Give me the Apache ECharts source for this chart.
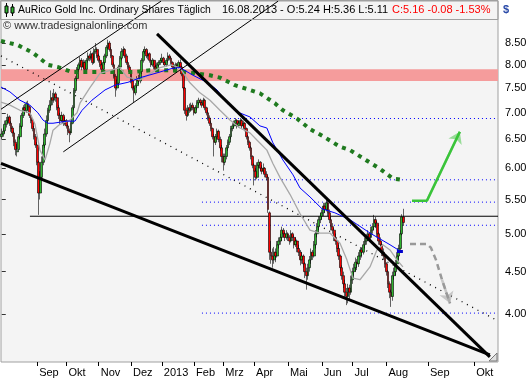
<!DOCTYPE html>
<html><head><meta charset="utf-8">
<script src="https://cdn.jsdelivr.net/npm/echarts@6/dist/echarts.min.js"></script>
<style>html,body{margin:0;padding:0;background:#fff}#c{width:531px;height:380px}</style>
</head><body><div id="c"></div><script>
// ---------- categories / ticks ----------
const holidays = ['2012-09-03','2012-10-29','2012-10-30','2012-11-22','2012-12-25','2013-01-01','2013-01-21','2013-02-18','2013-03-29','2013-05-27','2013-07-04'];
const tickLabels = ['Sep','Okt','Nov','Dez','2013','Feb','Mrz','Apr','Mai','Jun','Jul','Aug','Sep','Okt'];
const yTicks = [4.0,4.5,5.0,5.5,6.0,6.5,7.0,7.5,8.0,8.5];

// ---------- daily OHLC (AuRico Gold, Aug 2012 - 16 Aug 2013) ----------
const opens = [
6.55,6.60,6.66,6.78,6.84,6.92,6.80,6.71,6.62,6.45,
6.28,6.32,6.55,6.74,6.95,7.10,7.04,7.18,7.12,6.95,
6.86,6.70,6.55,6.40,6.10,5.60,5.85,6.10,6.40,6.60,
6.85,7.05,7.15,7.30,7.25,7.38,7.30,7.10,6.95,6.85,
6.95,6.80,6.85,6.75,6.65,6.62,6.80,7.10,7.45,7.70,
7.90,8.00,8.10,7.95,8.05,7.90,8.10,8.20,8.15,8.25,
8.05,8.30,8.35,8.20,8.10,8.00,7.90,8.05,8.20,8.40,
8.50,8.35,8.20,8.00,7.75,7.50,7.60,7.95,8.15,8.30,
8.35,8.20,8.05,7.95,7.85,7.65,7.50,7.40,7.55,7.70,
7.65,7.85,8.10,8.30,8.35,8.20,8.25,8.10,8.00,8.10,
7.95,7.90,8.00,8.05,8.10,8.15,8.05,8.00,8.10,8.20,
8.15,8.05,7.95,7.90,8.00,7.95,8.05,7.95,7.80,7.50,
7.05,6.95,7.10,7.05,7.15,7.10,7.00,7.10,7.20,7.25,
7.20,7.15,7.25,7.10,7.00,6.90,6.80,6.70,6.55,6.45,
6.55,6.65,6.50,6.35,6.20,6.10,6.20,6.35,6.45,6.55,
6.70,6.75,6.80,6.85,6.75,6.80,6.85,6.75,6.80,6.70,
6.55,6.45,6.35,6.20,6.05,5.95,5.85,6.05,6.10,6.00,
5.95,6.00,5.90,5.85,5.30,4.75,4.70,4.65,4.75,4.70,
4.85,4.90,4.95,5.05,5.00,4.95,5.00,4.95,4.90,5.00,
4.95,4.85,4.90,4.80,4.75,4.65,4.70,4.60,4.50,4.45,
4.55,4.65,4.75,4.70,4.85,5.00,5.10,5.20,5.25,5.30,
5.40,5.35,5.45,5.30,5.20,5.10,5.05,4.95,4.90,4.80,
4.70,4.55,4.45,4.35,4.25,4.20,4.30,4.25,4.40,4.50,
4.55,4.62,4.60,4.70,4.78,4.75,4.85,4.90,4.95,5.00,
4.95,5.05,5.10,5.20,5.15,5.00,4.90,4.85,4.75,4.70,
4.60,4.50,4.35,4.25,4.20,4.45,4.50,4.60,4.70,4.80,
5.00,5.24];
const highs = [
6.70,6.72,6.85,6.92,6.98,6.95,6.84,6.75,6.66,6.50,
6.42,6.60,6.80,7.00,7.15,7.18,7.22,7.24,7.15,7.00,
6.90,6.75,6.60,6.45,6.12,5.95,6.20,6.45,6.70,6.95,
7.10,7.25,7.45,7.40,7.48,7.42,7.32,7.15,7.00,7.02,
6.98,6.92,6.88,6.78,6.70,6.85,7.15,7.50,7.75,7.95,
8.05,8.18,8.15,8.12,8.10,8.15,8.28,8.25,8.32,8.28,
8.38,8.50,8.40,8.25,8.15,8.05,8.10,8.25,8.45,8.58,
8.55,8.40,8.22,8.05,7.80,7.68,8.00,8.20,8.38,8.42,
8.38,8.25,8.10,8.00,7.88,7.70,7.55,7.60,7.75,7.78,
7.90,8.15,8.35,8.42,8.38,8.30,8.28,8.12,8.15,8.12,
8.00,8.05,8.10,8.15,8.25,8.18,8.08,8.15,8.28,8.24,
8.18,8.08,8.00,8.05,8.04,8.10,8.12,7.98,7.82,7.52,
7.10,7.15,7.18,7.20,7.20,7.12,7.15,7.25,7.30,7.28,
7.22,7.30,7.28,7.12,7.05,6.95,6.85,6.72,6.60,6.60,
6.70,6.68,6.55,6.40,6.25,6.25,6.40,6.50,6.60,6.75,
6.80,6.85,6.90,6.88,6.85,6.90,6.88,6.85,6.82,6.72,
6.58,6.48,6.38,6.22,6.08,6.00,6.10,6.15,6.12,6.05,
6.08,6.02,5.95,5.88,5.32,4.90,4.80,4.82,4.80,4.90,
4.95,5.00,5.10,5.08,5.02,5.05,5.02,4.98,5.05,5.02,
4.98,4.95,4.92,4.85,4.78,4.75,4.72,4.62,4.55,4.60,
4.70,4.80,4.78,4.90,5.05,5.15,5.25,5.30,5.35,5.45,
5.45,5.50,5.48,5.35,5.25,5.15,5.08,5.00,4.92,4.85,
4.72,4.58,4.50,4.40,4.30,4.35,4.34,4.45,4.55,4.60,
4.68,4.66,4.75,4.82,4.80,4.90,4.95,5.00,5.05,5.02,
5.10,5.15,5.27,5.24,5.18,5.02,4.95,4.88,4.80,4.72,
4.62,4.52,4.38,4.28,4.50,4.55,4.65,4.75,4.85,5.05,
5.28,5.36];
const lows = [
6.50,6.55,6.62,6.72,6.80,6.75,6.64,6.55,6.38,6.22,
6.20,6.30,6.50,6.70,6.90,6.98,7.00,7.05,6.90,6.80,
6.65,6.50,6.35,6.05,5.27,5.50,5.80,6.05,6.35,6.55,
6.80,7.00,7.10,7.15,7.20,7.22,7.05,6.88,6.78,6.82,
6.75,6.76,6.70,6.58,6.45,6.58,6.78,7.05,7.40,7.65,
7.85,7.92,7.88,7.90,7.85,7.88,8.05,8.08,8.10,8.00,
8.02,8.25,8.15,8.05,7.95,7.82,7.85,8.00,8.15,8.35,
8.30,8.15,7.95,7.70,7.32,7.45,7.55,7.90,8.10,8.22,
8.15,8.00,7.90,7.80,7.60,7.45,7.21,7.35,7.50,7.58,
7.60,7.80,8.05,8.25,8.15,8.12,8.05,7.95,7.96,7.90,
7.85,7.88,7.96,8.00,8.05,8.00,7.95,7.96,8.05,8.10,
8.00,7.90,7.85,7.86,7.90,7.92,7.90,7.75,7.45,6.98,
6.85,6.92,7.00,7.02,7.05,6.95,6.98,7.05,7.15,7.15,
7.10,7.12,7.05,6.95,6.85,6.75,6.65,6.50,6.20,6.40,
6.50,6.45,6.30,6.10,5.96,6.05,6.15,6.30,6.40,6.50,
6.65,6.70,6.75,6.70,6.72,6.76,6.70,6.72,6.65,6.50,
6.40,6.30,6.15,6.00,5.72,5.80,5.82,6.00,5.95,5.90,
5.92,5.85,5.80,5.30,4.65,4.60,4.55,4.60,4.62,4.68,
4.80,4.85,4.90,4.95,4.90,4.92,4.90,4.85,4.88,4.90,
4.80,4.82,4.75,4.70,4.58,4.60,4.55,4.42,4.28,4.40,
4.50,4.60,4.65,4.68,4.80,4.95,5.05,5.15,5.20,5.25,
5.30,5.32,5.25,5.15,5.05,5.00,4.90,4.85,4.75,4.65,
4.50,4.40,4.30,4.18,4.10,4.12,4.15,4.22,4.35,4.45,
4.50,4.52,4.56,4.65,4.68,4.72,4.80,4.85,4.90,4.90,
4.92,5.00,5.05,5.08,4.95,4.85,4.80,4.70,4.65,4.55,
4.45,4.30,4.18,4.08,4.15,4.40,4.45,4.55,4.65,4.78,
4.98,5.11];
const closes = [
6.60,6.65,6.78,6.85,6.92,6.80,6.70,6.62,6.45,6.32,
6.30,6.55,6.75,6.95,7.10,7.05,7.18,7.12,6.95,6.85,
6.70,6.55,6.40,6.10,5.60,5.85,6.10,6.40,6.60,6.85,
7.05,7.15,7.30,7.25,7.38,7.30,7.10,6.95,6.85,6.95,
6.80,6.85,6.75,6.65,6.62,6.80,7.10,7.45,7.70,7.90,
8.00,8.10,7.95,8.05,7.90,8.10,8.20,8.15,8.25,8.05,
8.30,8.35,8.20,8.10,8.00,7.90,8.05,8.20,8.40,8.50,
8.35,8.20,8.00,7.75,7.50,7.60,7.95,8.15,8.30,8.35,
8.20,8.05,7.95,7.85,7.65,7.50,7.40,7.55,7.70,7.65,
7.85,8.10,8.30,8.35,8.20,8.25,8.10,8.00,8.10,7.95,
7.90,8.00,8.05,8.10,8.15,8.05,8.00,8.10,8.20,8.15,
8.05,7.95,7.90,8.00,7.95,8.05,7.95,7.80,7.50,7.05,
6.95,7.10,7.05,7.15,7.10,7.00,7.10,7.20,7.25,7.20,
7.15,7.25,7.10,7.00,6.90,6.80,6.70,6.55,6.45,6.55,
6.65,6.50,6.35,6.20,6.10,6.20,6.35,6.45,6.55,6.70,
6.75,6.80,6.85,6.75,6.80,6.85,6.75,6.80,6.70,6.55,
6.45,6.35,6.20,6.05,5.95,5.85,6.05,6.10,6.00,5.95,
6.00,5.90,5.85,5.35,4.75,4.70,4.65,4.75,4.70,4.85,
4.90,4.95,5.05,5.00,4.95,5.00,4.95,4.90,5.00,4.95,
4.85,4.90,4.80,4.75,4.65,4.70,4.60,4.50,4.45,4.55,
4.65,4.75,4.70,4.85,5.00,5.10,5.20,5.25,5.30,5.40,
5.35,5.45,5.30,5.20,5.10,5.05,4.95,4.90,4.80,4.70,
4.55,4.45,4.35,4.25,4.20,4.30,4.25,4.40,4.50,4.55,
4.62,4.60,4.70,4.78,4.75,4.85,4.90,4.95,5.00,4.95,
5.05,5.10,5.20,5.15,5.00,4.90,4.85,4.75,4.70,4.60,
4.50,4.35,4.25,4.20,4.45,4.50,4.60,4.70,4.80,5.00,
5.24,5.16];

// ---------- indicator lines: [bar position, price] ----------
const grayMA = [[-0.5,7.21],[5.3,7.15],[11.8,7.05],[18.3,7.00],[21.6,6.78],[24.8,6.31],[28.1,6.14],[31.3,6.43],[33.3,6.67],[37.8,6.78],[44.3,6.86],[48.9,7.00],[50.8,7.19],[57.3,7.51],[63.8,7.81],[76.8,7.94],[81.4,7.73],[89.8,7.67],[102.8,7.94],[110,8.00],[115.8,7.93],[122.3,7.61],[128.8,7.40],[135.3,7.25],[141.8,7.05],[148.3,6.86],[154.8,6.71],[161.3,6.62],[165.8,6.49],[172.3,6.31],[176.2,6.08],[180.8,5.85],[187.3,5.58],[193.8,5.29],[200.3,5.05],[206.8,5.01],[213.3,5.01],[219.8,4.87],[224.3,4.65],[228.2,4.42],[232.8,4.40],[239.3,4.56],[243.8,4.78],[247.7,4.85],[252.3,4.78],[256.8,4.65],[260.7,4.56]];
const blueMA = [[-0.5,7.52],[5.3,7.42],[11.8,7.25],[18.3,7.15],[23.5,7.00],[26.8,6.86],[30.0,6.80],[33.3,6.80],[42.4,6.84],[47.6,6.84],[52.2,7.05],[58.6,7.25],[67.1,7.46],[73.6,7.56],[82.0,7.62],[91.1,7.73],[99.6,7.81],[110.6,7.92],[115.8,7.94],[124.3,7.77],[133.4,7.62],[139.9,7.46],[146.4,7.19],[152.8,7.02],[161.3,6.92],[167.8,6.75],[172.3,6.71],[176.2,6.44],[182.7,6.14],[189.3,5.89],[193.8,5.68],[200.3,5.54],[208.1,5.36],[216.5,5.30],[226.3,5.20],[239.3,5.01],[252.3,4.85],[260.1,4.75]];
const blueMark = [[256.8,4.76],[260.7,4.76]];
const greenMA = [[-0.5,8.55],[10.5,8.45],[20.3,8.27],[30.0,8.00],[36.5,7.95],[45.6,7.84],[63.8,7.84],[85.3,7.84],[96.3,7.88],[109.3,7.88],[124.3,7.82],[135.3,7.77],[141.8,7.72],[151.5,7.56],[161.3,7.46],[167.8,7.39],[177.5,7.19],[182.7,7.05],[191.8,6.89],[200.3,6.69],[208.7,6.56],[219.8,6.37],[226.3,6.31],[245.8,5.99],[254.2,5.83],[260.1,5.81]];

// ---------- drawn analysis (trend lines, levels, projections) ----------
const supportLine  = [[-0.5,6.08],[317.2,3.57]];
const downTrend    = [[100.9,8.72],[317.2,3.55]];
const channelUpper = [[-0.5,7.07],[103.5,9.55]];
const channelLower = [[40,6.28],[179.6,9.55]];
const dottedTrend  = [[-0.5,8.20],[321.8,3.93]];
const breakoutLevel = 5.25, breakoutFrom = 18.3;
const blueLevels = [6.89,5.81,5.46,5.12,4.01], blueLevelsFrom = 130.1;
const pinkZone = [7.65,7.90];
const greenPath = [[266.6,5.48],[276.3,5.48],[297.7,6.64]];
const grayPath  = [[265.3,4.86],[276.3,4.86],[278.9,4.81],[282.2,4.65],[286.1,4.40],[291.3,4.12]];
const lastSlot = 322.5;

// ---------- build ----------
const L = Math.log;
function iso(d){return d.toISOString().slice(0,10);}
const cats = [];
for (let d = new Date(Date.UTC(2012,7,1)); d <= new Date(Date.UTC(2013,7,16)); d.setUTCDate(d.getUTCDate()+1)) {
  const wd = d.getUTCDay(), s = iso(d);
  if (wd === 0 || wd === 6 || holidays.includes(s)) continue;
  cats.push(s);
}
for (let d = new Date(Date.UTC(2013,7,17)); d <= new Date(Date.UTC(2013,9,16)); d.setUTCDate(d.getUTCDate()+1)) cats.push(iso(d));
const tickIdx = {}; let k = 0;
for (let i = 1; i < cats.length; i++) if (cats[i].slice(5,7) !== cats[i-1].slice(5,7)) tickIdx[i] = tickLabels[k++];

const candles = opens.map((o,i)=>[L(o), L(closes[i]), L(lows[i]), L(highs[i])]);
const FONT = 'Liberation Sans';
function ln(name, pts, style, z){
  return {type:'line', name, xAxisIndex:1, yAxisIndex:0, data: pts.map(p=>[p[0], L(p[1])]), symbol:'none', silent:true, z, lineStyle: style};
}
function arrow(name, a, b, style, z){
  return {type:'lines', name, coordinateSystem:'cartesian2d', xAxisIndex:1, yAxisIndex:0, polyline:false, silent:true, z,
    symbol:['none','arrow'], symbolSize:11, lineStyle: style,
    data:[{coords:[[a[0],L(a[1])],[b[0],L(b[1])]]}]};
}
const series = [];
series.push({type:'line', name:'zone', xAxisIndex:1, data:[[0,L(7.7)]], symbol:'none', lineStyle:{opacity:0}, z:1, silent:true,
  markArea:{silent:true, itemStyle:{color:'#f59c9c'}, data:[[{yAxis:L(pinkZone[0])},{yAxis:L(pinkZone[1])}]]}});
series.push(ln('dotted', dottedTrend, {color:'#000', width:1.3, type:[1,5]}, 2));
blueLevels.forEach((v,i)=>series.push(ln('lvl'+i, [[blueLevelsFrom,v],[lastSlot,v]], {color:'#0000ff', width:1, type:[1,3]}, 2)));
series.push(ln('breakout', [[breakoutFrom,breakoutLevel],[lastSlot,breakoutLevel]], {color:'#000', width:1}, 2));
series.push({type:'candlestick', name:'AuRico', xAxisIndex:0, yAxisIndex:0, data:candles, barWidth:2.3, z:3, silent:true,
  itemStyle:{color:'#2fb52f', color0:'#ff0000', borderColor:'#000', borderColor0:'#000', borderWidth:0.6}});
series.push(ln('ma200', greenMA, {color:'#1f7a1f', width:4, type:[4,5], cap:'butt'}, 4));
series.push(ln('maGray', grayMA, {color:'#a8a8a8', width:1.3}, 4));
series.push(ln('maBlue', blueMA, {color:'#0000ff', width:1}, 4));
series.push(ln('maBlueMark', blueMark, {color:'#0000cc', width:3}, 4));
series.push(ln('support', supportLine, {color:'#000', width:3}, 5));
series.push(ln('downtrend', downTrend, {color:'#000', width:3}, 5));
series.push(ln('chanUp', channelUpper, {color:'#000', width:1}, 5));
series.push(ln('chanLow', channelLower, {color:'#000', width:1}, 5));
series.push(ln('greenProj', greenPath, {color:'#3ac43a', width:2.5}, 6));
series.push(arrow('greenArrow', greenPath[1], greenPath[2], {color:'#3ac43a', width:2.5}, 6));
series.push(ln('grayProj', grayPath, {color:'#999', width:2.5, type:[6,4]}, 6));
series.push(arrow('grayArrow', grayPath[4], grayPath[5], {color:'#999', width:2.5}, 6));

const chart = echarts.init(document.getElementById('c'), null, {renderer:'canvas'});
chart.setOption({
  animation:false,
  backgroundColor:'#fff',
  textStyle:{fontFamily:FONT},
  grid:{left:1, right:33, top:1, bottom:18, show:true, backgroundColor:'#f4f4f4', borderColor:'#a0a0a0', borderWidth:1},
  xAxis:[
    {type:'category', data:cats, boundaryGap:true, axisLine:{show:false},
     axisTick:{show:true, alignWithLabel:true, interval:(i)=>i in tickIdx, length:4, lineStyle:{color:'#000'}},
     axisLabel:{interval:(i)=>i in tickIdx, formatter:(v,i)=>tickIdx[i]||'', align:'left', padding:[0,0,0,2], margin:5, fontSize:11, color:'#000', fontFamily:FONT},
     splitLine:{show:false}},
    {type:'value', min:-0.5, max:lastSlot, show:false}
  ],
  yAxis:[{type:'value', position:'right', min:L(3.5), max:L(9.554), axisLine:{show:false},
    axisTick:{show:true, length:4, customValues:yTicks.map(L), lineStyle:{color:'#333'}},
    axisLabel:{customValues:yTicks.map(L), formatter:(v)=>Math.exp(v).toFixed(2), margin:7, fontSize:11, color:'#000', fontFamily:FONT},
    splitLine:{show:false}}],
  series,
  graphic:[
    {type:'rect', z:100, shape:{x:0.5,y:0.5,width:497.5,height:19}, style:{fill:'none', stroke:'#a0a0a0', lineWidth:1}},
    {type:'line', z:100, shape:{x1:6.5,y1:3,x2:6.5,y2:17}, style:{stroke:'#000', lineWidth:1}},
    {type:'rect', z:101, shape:{x:5,y:6,width:3,height:7}, style:{fill:'#2fb52f', stroke:'#000', lineWidth:1}},
    {type:'line', z:100, shape:{x1:12.5,y1:4,x2:12.5,y2:16}, style:{stroke:'#000', lineWidth:1}},
    {type:'rect', z:101, shape:{x:11,y:7,width:3,height:6}, style:{fill:'#2fb52f', stroke:'#000', lineWidth:1}},
    {type:'text', z:100, x:18, y:10, style:{text:'AuRico Gold Inc. Ordinary Shares Täglich', fill:'#000', font:'10.4px "Liberation Sans"', verticalAlign:'middle'}},
    {type:'text', z:100, x:222, y:10, style:{text:'16.08.2013 - O:5.24 H:5.36 L:5.11', fill:'#000', font:'11px "Liberation Sans"', verticalAlign:'middle'}},
    {type:'text', z:100, x:392, y:10, style:{text:'C:5.16 -0.08 -1.53%', fill:'#ff0000', font:'11px "Liberation Sans"', verticalAlign:'middle'}},
    {type:'text', z:100, x:503, y:10, style:{text:'$', fill:'#2a4aa8', font:'bold 11px "Liberation Sans"', verticalAlign:'middle'}},
    {type:'text', z:100, x:3, y:26, style:{text:'© www.tradesignalonline.com', fill:'#333', font:'11px "Liberation Sans"', verticalAlign:'middle'}},
    {type:'polygon', z:100, shape:{points:[[489,361],[497,353],[497,361]]}, style:{fill:'#e0e0e0', stroke:'#777', lineWidth:1}}
  ]
});
</script></body></html>
